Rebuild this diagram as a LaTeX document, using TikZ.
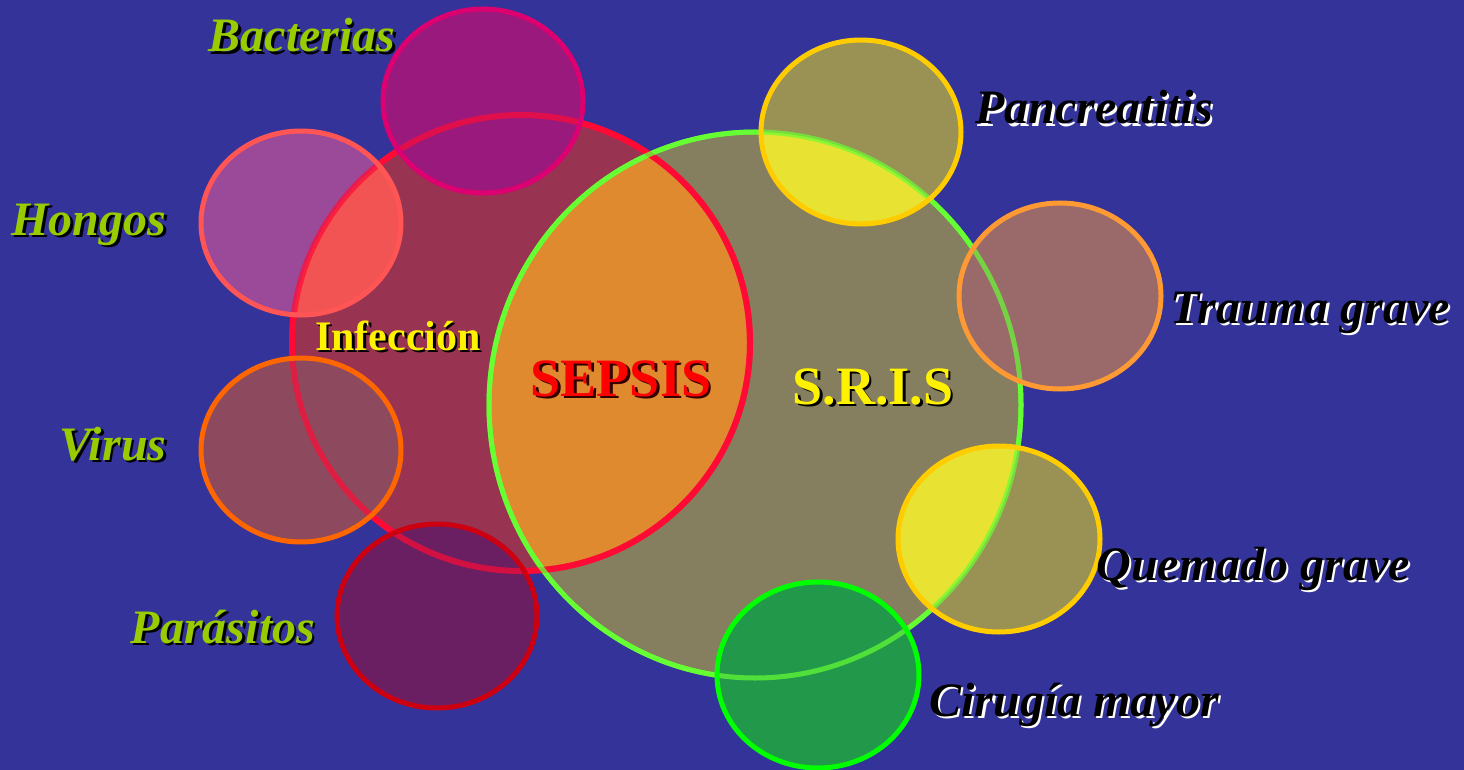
\documentclass[tikz,border=0pt]{standalone}
\usepackage{fontspec}
\setmainfont{Liberation Serif}
\definecolor{bg}{HTML}{333399}
\definecolor{infFill}{HTML}{993352}
\definecolor{infLine}{HTML}{FF0A35}
\definecolor{srisFill}{HTML}{857F60}
\definecolor{srisLine}{HTML}{66FF33}
\definecolor{sepFill}{HTML}{E08A30}
\definecolor{bactFill}{HTML}{991A7C}
\definecolor{bactLine}{HTML}{DD0070}
\definecolor{hongFill}{HTML}{9B4A99}
\definecolor{hongOver}{HTML}{F25353}
\definecolor{hongLine}{HTML}{FF5555}
\definecolor{virFill}{HTML}{8D4A5E}
\definecolor{virLine}{HTML}{FF6600}
\definecolor{parFill}{HTML}{6A1F62}
\definecolor{parLine}{HTML}{CC0011}
\definecolor{pancFill}{HTML}{9A9255}
\definecolor{pancOver}{HTML}{E8E232}
\definecolor{pancLine}{HTML}{FFCC00}
\definecolor{traFill}{HTML}{9A6A6A}
\definecolor{traLine}{HTML}{FF9933}
\definecolor{cirFill}{HTML}{22994A}
\definecolor{cirLine}{HTML}{00FF00}
\definecolor{labgreen}{HTML}{99CC00}
\begin{document}
\begin{tikzpicture}[x=1pt,y=-1pt,
  lab/.style={font=\fontsize{48}{52}\selectfont\bfseries\itshape, anchor=base, inner sep=0pt},
  leftlab/.style={lab, text=labgreen},
  rightlab/.style={lab, text=black},
  sh/.style={xshift=2.5pt, yshift=-2.5pt},
  bigtxt/.style={font=\fontsize{54}{58}\selectfont\bfseries, anchor=base, inner sep=0pt},
  inftxt/.style={font=\fontsize{42}{46}\selectfont\bfseries, anchor=base, inner sep=0pt},
  ring/.style={line width=5pt},
]
\fill[bg] (0,0) rectangle (1464,770);
\useasboundingbox (0,0) rectangle (1464,770);

% big sets
\fill[infFill] (521,343) ellipse [x radius=229, y radius=228];
\fill[srisFill] (755,405) ellipse [x radius=266, y radius=273];
\begin{scope}
  \clip (521,343) ellipse [x radius=229, y radius=228];
  \fill[sepFill] (755,405) ellipse [x radius=266, y radius=273];
\end{scope}
\draw[infLine, line width=6pt] (521,343) ellipse [x radius=229, y radius=228];
\draw[srisLine, line width=5pt] (755,405) ellipse [x radius=266, y radius=273];

% small circles: fills
\fill[bactFill] (483,101) ellipse [x radius=100, y radius=92];
\fill[hongFill] (301,223) ellipse [x radius=100, y radius=92];
\begin{scope}
  \clip (301,223) ellipse [x radius=100, y radius=92];
  \fill[hongOver] (521,343) ellipse [x radius=229, y radius=228];
\end{scope}
\fill[virFill] (301,450) ellipse [x radius=100, y radius=92];
\fill[parFill] (437,616) ellipse [x radius=100, y radius=92];
\fill[pancFill] (861,132) ellipse [x radius=100, y radius=92];
\begin{scope}
  \clip (861,132) ellipse [x radius=100, y radius=92];
  \fill[pancOver] (755,405) ellipse [x radius=266, y radius=273];
\end{scope}
\fill[traFill] (1060,296) ellipse [x radius=101, y radius=93];
\fill[pancFill] (999,539) ellipse [x radius=101, y radius=93];
\begin{scope}
  \clip (999,539) ellipse [x radius=101, y radius=93];
  \fill[pancOver] (755,405) ellipse [x radius=266, y radius=273];
\end{scope}
\fill[cirFill] (818,675) ellipse [x radius=101, y radius=93];

% big outlines seen through
\draw[infLine, line width=6pt, opacity=0.7] (521,343) ellipse [x radius=229, y radius=228];
\draw[srisLine, line width=5pt, opacity=0.7] (755,405) ellipse [x radius=266, y radius=273];

% small outlines
\draw[ring, bactLine] (483,101) ellipse [x radius=100, y radius=92];
\draw[ring, hongLine] (301,223) ellipse [x radius=100, y radius=92];
\draw[ring, virLine] (301,450) ellipse [x radius=100, y radius=92];
\draw[ring, parLine] (437,616) ellipse [x radius=100, y radius=92];
\draw[ring, pancLine] (861,132) ellipse [x radius=100, y radius=92];
\draw[ring, traLine] (1060,296) ellipse [x radius=101, y radius=93];
\draw[ring, pancLine] (999,539) ellipse [x radius=101, y radius=93];
\draw[ring, cirLine] (818,675) ellipse [x radius=101, y radius=93];

% left labels
\node[lab, text=black, sh] at (302,52) {Bacterias};
\node[leftlab] (bact) at (302,52) {Bacterias};
\node[lab, text=black, sh] at (89,235) {Hongos};
\node[leftlab] (hong) at (89,235) {Hongos};
\node[lab, text=black, sh] at (113,460) {Virus};
\node[leftlab] (vir) at (113,460) {Virus};
\node[lab, text=black, sh] at (223,643) {Parásitos};
\node[leftlab] (par) at (223,643) {Parásitos};

% right labels
\node[lab, text=white, sh] at (1094,124) {Pancreatitis};
\node[rightlab] (panc) at (1094,124) {Pancreatitis};
\node[lab, text=white, sh] at (1310,323) {Trauma grave};
\node[rightlab] (tra) at (1310,323) {Trauma grave};
\node[lab, text=white, sh] at (1253,580) {Quemado grave};
\node[rightlab] (quem) at (1253,580) {Quemado grave};
\node[lab, text=white, sh] at (1074,716) {Cirugía mayor};
\node[rightlab] (cir) at (1074,716) {Cirugía mayor};

% inner labels
\node[inftxt, text=black, sh] at (398,350) {Infección};
\node[inftxt, text=yellow] (inf) at (398,350) {Infección};
\node[bigtxt, text=black!80!red, sh] at (621,396) {SEPSIS};
\node[bigtxt, text=red] (sep) at (621,396) {SEPSIS};
\node[bigtxt, text=black, sh] at (873,404) {S.R.I.S};
\node[bigtxt, text=yellow] (sris) at (873,404) {S.R.I.S};
\end{tikzpicture}
\end{document}
